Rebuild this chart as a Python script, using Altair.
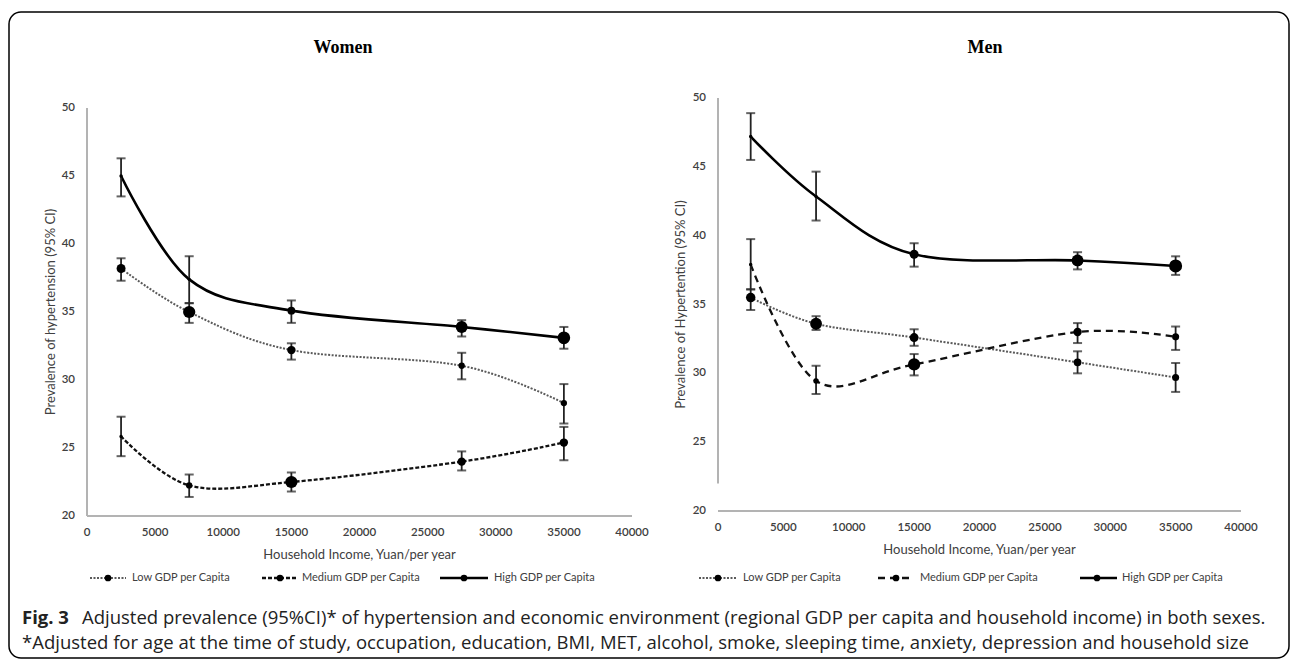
import altair as alt
import pandas as pd

# ---------------- data ----------------
income = [2500, 7500, 15000, 27500, 35000]
x_ticks = [0, 5000, 10000, 15000, 20000, 25000, 30000, 35000, 40000]
y_ticks = [20, 25, 30, 35, 40, 45, 50]
series = ["Low GDP per Capita", "Medium GDP per Capita", "High GDP per Capita"]

women_low = [38.2, 35.0, 32.2, 31.05, 28.3]
women_low_lower = [37.3, 34.2, 31.5, 30.05, 26.8]
women_low_upper = [38.95, 35.65, 32.7, 32.0, 29.7]
women_medium = [25.85, 22.25, 22.5, 24.0, 25.4]
women_medium_lower = [24.4, 21.4, 21.8, 23.35, 24.1]
women_medium_upper = [27.3, 23.05, 23.2, 24.75, 26.55]
women_high = [45.0, 37.4, 35.1, 33.9, 33.1]
women_high_lower = [43.5, 35.65, 34.2, 33.2, 32.3]
women_high_upper = [46.3, 39.1, 35.85, 34.4, 33.9]

men_low = [35.5, 33.6, 32.6, 30.8, 29.7]
men_low_lower = [34.6, 33.15, 32.0, 30.0, 28.65]
men_low_upper = [36.1, 34.15, 33.2, 31.6, 30.75]
men_medium = [37.9, 29.45, 30.65, 33.0, 32.65]
men_medium_lower = [36.1, 28.5, 29.85, 32.2, 31.7]
men_medium_upper = [39.75, 30.55, 31.4, 33.65, 33.4]
men_high = [47.2, 42.85, 38.65, 38.2, 37.8]
men_high_lower = [45.5, 41.1, 37.75, 37.55, 37.15]
men_high_upper = [48.9, 44.65, 39.45, 38.8, 38.5]

panel_titles = ["Women", "Men"]
y_titles = ["Prevalence of hypertension (95% CI)", "Prevalence of Hypertention (95% CI)"]
x_title = "Household Income, Yuan/per year"
caption_bold = "Fig. 3"
caption_1 = ("Adjusted prevalence (95%CI)* of hypertension and economic environment "
             "(regional GDP per capita and household income) in both sexes.")
caption_2 = ("*Adjusted for age at the time of study, occupation, education, BMI, MET, "
             "alcohol, smoke, sleeping time, anxiety, depression and household size")

# ---------------- styles (marker areas, not data) ----------------
women_marker = {"Low GDP per Capita": [80, 150, 70, 40, 40],
                "Medium GDP per Capita": [12, 40, 150, 70, 70],
                "High GDP per Capita": [12, 12, 60, 140, 160]}
men_marker = {"Low GDP per Capita": [90, 140, 80, 60, 50],
              "Medium GDP per Capita": [12, 30, 150, 70, 50],
              "High GDP per Capita": [12, 12, 80, 140, 170]}

W, H = 1295, 662
TXT = "#404040"
AXIS_GRAY = "#b3b3b3"
LBL_FONT = "Lato"


def frame_of(mid, lo, hi, sizes):
    return pd.DataFrame({"income": income, "value": mid, "lower": lo,
                         "upper": hi, "msize": sizes})


def panel(data, markers, xr, yr, y_title, y_title_x, dashes, y_axis_from):
    xs = alt.Scale(domain=[0, 40000], range=xr, nice=False, zero=False)
    ys = alt.Scale(domain=[20, 50], range=yr, nice=False, zero=False)

    def X(f):
        return alt.X(f, scale=xs, axis=None)

    def Y(f):
        return alt.Y(f, scale=ys, axis=None)

    layers = []
    # axis lines
    xdom = pd.DataFrame({"x": [0], "x2": [40000], "y": [20]})
    layers.append(alt.Chart(xdom).mark_rule(color=AXIS_GRAY, strokeWidth=2).encode(
        x=X("x:Q"), x2="x2:Q", y=Y("y:Q")))
    ydom = pd.DataFrame({"x": [0], "y": [y_axis_from], "y2": [50]})
    layers.append(alt.Chart(ydom).mark_rule(color=AXIS_GRAY, strokeWidth=2).encode(
        x=X("x:Q"), y=Y("y:Q"), y2="y2:Q"))
    # tick labels
    xl = pd.DataFrame({"v": x_ticks, "y": [20] * len(x_ticks)})
    layers.append(alt.Chart(xl).mark_text(font=LBL_FONT, fontSize=11.5, fontWeight=600,
                                          color=TXT, align="center", baseline="middle",
                                          dy=17).encode(
        x=X("v:Q"), y=Y("y:Q"), text=alt.Text("v:Q", format="d")))
    yl = pd.DataFrame({"v": y_ticks, "x": [0] * len(y_ticks)})
    layers.append(alt.Chart(yl).mark_text(font=LBL_FONT, fontSize=11.5, fontWeight=600,
                                          color=TXT, align="right", baseline="middle",
                                          dx=-12).encode(
        x=X("x:Q"), y=Y("v:Q"), text=alt.Text("v:Q", format="d")))
    # axis titles
    xt = pd.DataFrame({"t": [x_title], "x": [20000], "y": [20]})
    layers.append(alt.Chart(xt).mark_text(font=LBL_FONT, fontSize=13, color=TXT,
                                          align="center", baseline="middle",
                                          dy=39).encode(
        x=X("x:Q"), y=Y("y:Q"), text="t:N"))
    yt = pd.DataFrame({"t": [y_title], "y": [35]})
    layers.append(alt.Chart(yt).mark_text(font=LBL_FONT, fontSize=13, color=TXT,
                                          align="center", baseline="middle",
                                          angle=270).encode(
        x=alt.value(y_title_x), y=Y("y:Q"), text="t:N"))

    for s in series:
        mid, lo, hi = data[s]
        df = frame_of(mid, lo, hi, markers[s])
        base = alt.Chart(df)
        style = dashes[s]
        line_kw = dict(interpolate="cardinal", color=style["color"],
                       strokeWidth=style["width"])
        if style["dash"]:
            line_kw["strokeDash"] = style["dash"]
        layers.append(base.mark_line(**line_kw).encode(x=X("income:Q"), y=Y("value:Q")))
        layers.append(base.mark_rule(color="#222222", strokeWidth=1.8).encode(
            x=X("income:Q"), y=Y("lower:Q"), y2="upper:Q"))
        for col in ["lower", "upper"]:
            layers.append(base.mark_tick(orient="horizontal", size=9, thickness=2,
                                         color="#222222").encode(
                x=X("income:Q"), y=Y(f"{col}:Q")))
        layers.append(base.mark_circle(color="black", opacity=1).encode(
            x=X("income:Q"), y=Y("value:Q"),
            size=alt.Size("msize:Q", scale=None)))
    return alt.layer(*layers)


women_data = {"Low GDP per Capita": (women_low, women_low_lower, women_low_upper),
              "Medium GDP per Capita": (women_medium, women_medium_lower, women_medium_upper),
              "High GDP per Capita": (women_high, women_high_lower, women_high_upper)}
men_data = {"Low GDP per Capita": (men_low, men_low_lower, men_low_upper),
            "Medium GDP per Capita": (men_medium, men_medium_lower, men_medium_upper),
            "High GDP per Capita": (men_high, men_high_lower, men_high_upper)}

women_style = {"Low GDP per Capita": {"color": "#5a5a5a", "dash": [2, 1.5], "width": 2},
               "Medium GDP per Capita": {"color": "#111111", "dash": [4, 2], "width": 2.3},
               "High GDP per Capita": {"color": "#000000", "dash": None, "width": 2.6}}
men_style = {"Low GDP per Capita": {"color": "#5a5a5a", "dash": [2, 1.5], "width": 2},
             "Medium GDP per Capita": {"color": "#111111", "dash": [7, 5], "width": 2.3},
             "High GDP per Capita": {"color": "#000000", "dash": None, "width": 2.6}}

women = panel(women_data, women_marker, [87, 632], [516, 108],
              y_titles[0], 51, women_style, 20)
men = panel(men_data, men_marker, [718, 1241], [511, 98],
            y_titles[1], 681, men_style, 22)

one = pd.DataFrame({"a": [0]})

border = alt.Chart(one).mark_rect(fillOpacity=0, stroke="black", strokeWidth=1.5,
                                  cornerRadius=12).encode(
    x=alt.value(9), x2=alt.value(1289), y=alt.value(12), y2=alt.value(658))

# panel titles
title_layout = {"Women": (343, 48), "Men": (985, 48)}
titles = []
for t in panel_titles:
    px, py = title_layout[t]
    titles.append(alt.Chart(pd.DataFrame({"t": [t]})).mark_text(
        font="Liberation Serif", fontWeight="bold", fontSize=18, color="black",
        align="center", baseline="middle").encode(
        text="t:N", x=alt.value(px), y=alt.value(py)))

# legends (layout positions kept separate from data)
legend_y = 578
legend_layout = {
    "women": {"x1": [90, 262, 440], "x2": [126, 298, 488], "dot": [108, 280, 464],
              "tx": [132, 302, 494]},
    "men": {"x1": [699, 878, 1080], "x2": [737, 914, 1117], "dot": [718, 896, 1097],
            "tx": [743, 920, 1122]},
}
legend_layers = []
for key, style in [("women", women_style), ("men", men_style)]:
    lay = legend_layout[key]
    for i, s in enumerate(series):
        st = style[s]
        ldf = pd.DataFrame({"x1": [lay["x1"][i]], "x2": [lay["x2"][i]],
                            "dot": [lay["dot"][i]], "tx": [lay["tx"][i]], "name": [s]})
        kw = dict(color=st["color"], strokeWidth=st["width"])
        if st["dash"]:
            kw["strokeDash"] = st["dash"]
        legend_layers.append(alt.Chart(ldf).mark_rule(**kw).encode(
            x=alt.X("x1:Q", scale=None), x2="x2:Q", y=alt.value(legend_y)))
        legend_layers.append(alt.Chart(ldf).mark_circle(color="black", opacity=1, size=45).encode(
            x=alt.X("dot:Q", scale=None), y=alt.value(legend_y)))
        legend_layers.append(alt.Chart(ldf).mark_text(
            font=LBL_FONT, fontSize=11, color=TXT, align="left", baseline="middle").encode(
            x=alt.X("tx:Q", scale=None), y=alt.value(legend_y), text="name:N"))

# caption
cap_font = "Open Sans"
cap_size = 18.5
caption = [
    alt.Chart(pd.DataFrame({"t": [caption_bold]})).mark_text(
        font=cap_font, fontSize=cap_size, fontWeight="bold", color="#222222",
        align="left", baseline="alphabetic").encode(
        text="t:N", x=alt.value(22), y=alt.value(624)),
    alt.Chart(pd.DataFrame({"t": [caption_1]})).mark_text(
        font=cap_font, fontSize=cap_size, color="#222222",
        align="left", baseline="alphabetic").encode(
        text="t:N", x=alt.value(82), y=alt.value(624)),
    alt.Chart(pd.DataFrame({"t": [caption_2]})).mark_text(
        font=cap_font, fontSize=cap_size, color="#222222",
        align="left", baseline="alphabetic").encode(
        text="t:N", x=alt.value(22), y=alt.value(649)),
]

chart = alt.layer(border, women, men, *titles, *legend_layers, *caption).resolve_scale(
    x="independent", y="independent"
).properties(
    width=W, height=H, padding=0, autosize=alt.AutoSizeParams(type="none"),
    background="white"
).configure_view(stroke=None)

chart.save("out.html", embed_options={"renderer": "svg", "actions": False})
